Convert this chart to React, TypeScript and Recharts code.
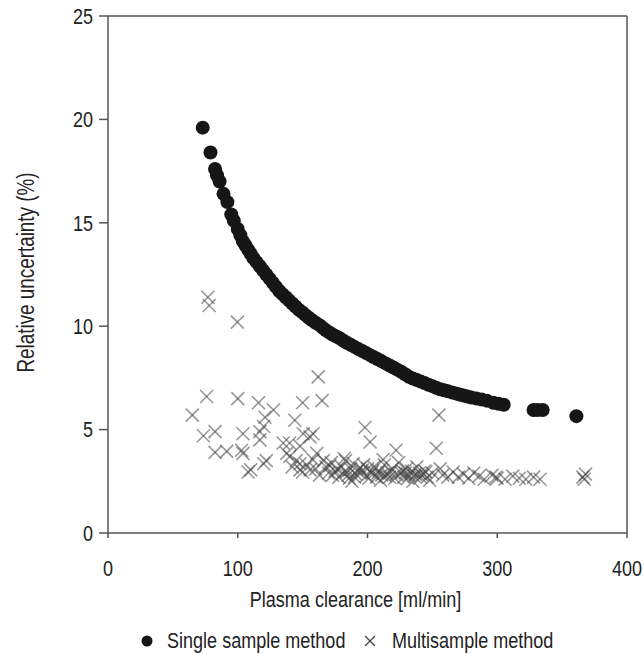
import { ScatterChart, Scatter, XAxis, YAxis, ReferenceLine, Legend, Label } from 'recharts';

// single sample method: one dot per patient
const singleX = [73, 79, 82.5, 84, 86, 89, 92, 95, 97, 100, 102, 104, 106, 108, 110, 112, 114.5, 117, 119.5, 122, 124.5, 127, 129.5, 132, 134.5, 137, 139.5, 142, 144.5, 147, 149.5, 152, 154.5, 157, 160, 163, 165.5, 168, 170.5, 173, 176, 179, 181.5, 184, 187, 190, 193, 196, 199, 202, 205, 208, 211, 214, 217, 220, 223, 226, 229, 232, 235, 238, 241, 244, 247, 250, 253, 256, 259, 262, 265, 268, 271, 274, 277, 280, 284, 288, 292, 297, 301, 305, 328, 331, 335, 361];
const singleY = [19.6, 18.4, 17.6, 17.3, 17.0, 16.4, 16.0, 15.4, 15.1, 14.7, 14.4, 14.1, 13.9, 13.7, 13.5, 13.3, 13.1, 12.9, 12.7, 12.5, 12.3, 12.1, 11.9, 11.7, 11.55, 11.4, 11.25, 11.1, 10.95, 10.8, 10.68, 10.55, 10.42, 10.3, 10.17, 10.05, 9.92, 9.8, 9.7, 9.6, 9.5, 9.4, 9.3, 9.2, 9.1, 9.0, 8.9, 8.8, 8.7, 8.6, 8.5, 8.4, 8.3, 8.2, 8.1, 8.0, 7.9, 7.8, 7.68, 7.55, 7.47, 7.4, 7.32, 7.25, 7.17, 7.1, 7.02, 6.95, 6.9, 6.85, 6.8, 6.75, 6.7, 6.65, 6.6, 6.55, 6.5, 6.45, 6.4, 6.3, 6.25, 6.2, 5.95, 5.95, 5.95, 5.65];

// multisample method
const multiX = [65, 73.5, 76, 77, 78, 82.5, 82.5, 91.5, 99.7, 100, 104, 103, 104, 108, 110, 116, 117, 117, 120, 121, 122, 120, 127.5, 135, 137.7, 140, 140, 142, 144, 145, 148, 148, 148, 150, 150, 150.5, 153, 155.7, 155.7, 158, 158, 160, 161, 162, 163, 165, 166, 168,
  170, 172, 175, 178, 180, 181, 182, 183, 185, 187, 188, 189, 190, 192, 195, 197, 198, 199, 200, 202, 203, 205, 207, 209, 210, 211, 212, 213, 215, 217, 219, 222, 222, 224, 226, 228, 230, 232, 234, 235, 236, 238, 240, 242, 244, 246, 248, 250, 253, 255, 256, 258, 262, 266, 270, 274, 278, 282, 286, 290, 296, 299, 300, 306, 312, 317, 322, 328, 333, 366, 368, 367,
  173, 177, 184, 186, 191, 194, 201, 204, 208, 214, 218, 221, 227, 231, 237, 241, 245, 171, 196, 229];
const multiY = [5.7, 4.7, 6.6, 11.4, 11.0, 4.9, 3.9, 3.95, 10.2, 6.5, 4.8, 4.0, 3.85, 2.95, 3.05, 6.3, 4.9, 4.5, 5.15, 5.6, 3.5, 3.35, 5.95, 4.35, 3.85, 3.7, 4.35, 3.2, 5.45, 3.5, 4.2, 3.35, 3.05, 6.3, 2.95, 4.8, 3.3, 4.65, 3.05, 3.55, 4.8, 3.1, 3.85, 7.55, 2.8, 6.4, 3.5, 3.2,
  2.9, 3.4, 3.0, 2.7, 3.2, 2.9, 3.6, 3.5, 2.8, 3.1, 2.5, 3.35, 2.7, 3.0, 2.9, 3.3, 5.1, 2.75, 3.1, 4.4, 2.9, 3.2, 2.7, 3.0, 2.55, 2.8, 3.55, 3.3, 2.9, 2.7, 3.1, 4.0, 2.85, 3.4, 2.9, 2.7, 3.1, 2.8, 3.0, 2.5, 2.75, 3.2, 2.9, 2.8, 3.0, 2.7, 2.55, 2.9, 4.1, 5.7, 3.1, 2.8, 2.7, 2.95, 2.7, 2.85, 2.65, 2.9, 2.75, 2.6, 2.8, 2.7, 2.65, 2.6, 2.75, 2.65, 2.6, 2.7, 2.6, 2.7, 2.85, 2.6,
  2.8, 3.05, 2.95, 2.65, 2.85, 3.15, 2.65, 3.0, 2.9, 2.75, 2.95, 2.65, 3.0, 2.65, 2.85, 2.7, 2.95, 3.25, 3.05, 2.9];

const xTicks = [0, 100, 200, 300, 400];
const yTicks = [0, 5, 10, 15, 20, 25];

const single = singleX.map((x, i) => ({ x, y: singleY[i] }));
const multi = multiX.map((x, i) => ({ x, y: multiY[i] }));

const FONT = '"Liberation Sans", Arial, sans-serif';
const FS = 22;
const SQ = 'scale(0.82,1)'; // narrow the face to look like a condensed grotesque
const AXIS = '#555';
const INK = '#222';

const Dot = (p: any) => <circle cx={p.cx} cy={p.cy} r={7} fill="#161616" />;

const Cross = (p: any) => {
  const d = 6.5;
  return (
    <g stroke="#444" strokeOpacity={0.55} strokeWidth={1.6}>
      <line x1={p.cx - d} y1={p.cy - d} x2={p.cx + d} y2={p.cy + d} />
      <line x1={p.cx - d} y1={p.cy + d} x2={p.cx + d} y2={p.cy - d} />
    </g>
  );
};

const NarrowText = ({ x, y, anchor, dy, rotate, size, children }: any) => (
  <g transform={`translate(${x},${y})${rotate ? ` rotate(${rotate})` : ''}`}>
    <text transform={SQ} textAnchor={anchor} dy={dy} fontSize={size || FS} fontFamily={FONT} fill={INK}>
      {children}
    </text>
  </g>
);

const XTick = (p: any) => (
  <NarrowText x={p.x} y={p.y} anchor="middle" dy="0.71em">{p.payload.value}</NarrowText>
);

const YTick = (p: any) => (
  <NarrowText x={p.x} y={p.y} anchor="end" dy="0.355em">{p.payload.value}</NarrowText>
);

const LegendContent = () => (
  <svg width={643} height={36} style={{ display: 'block' }}>
    <circle cx={147} cy={21} r={5.5} fill="#161616" />
    <NarrowText x={167} y={28} anchor="start">Single sample method</NarrowText>
    <g stroke="#444" strokeWidth={1.2}>
      <line x1={365} y1={16} x2={375} y2={26} />
      <line x1={365} y1={26} x2={375} y2={16} />
    </g>
    <NarrowText x={392} y={28} anchor="start">Multisample method</NarrowText>
  </svg>
);

export default function App() {
  return (
    <div style={{ position: 'absolute', left: 0, top: 0, background: '#fff' }}>
      <ScatterChart width={643} height={654} margin={{ top: 16, right: 16, bottom: 0, left: 0 }}>
        <XAxis
          type="number"
          dataKey="x"
          domain={[0, 400]}
          ticks={xTicks}
          height={121}
          tick={XTick}
          tickSize={5}
          tickMargin={22}
          stroke={AXIS}
          strokeWidth={1.5}
        >
          <Label
            content={(p: any) => (
              <NarrowText x={p.viewBox.x + p.viewBox.width / 2 - 12} y={p.viewBox.y + 74} anchor="middle">
                Plasma clearance [ml/min]
              </NarrowText>
            )}
          />
        </XAxis>
        <YAxis
          type="number"
          dataKey="y"
          domain={[0, 25]}
          ticks={yTicks}
          width={108}
          tick={YTick}
          tickSize={9}
          tickMargin={6}
          stroke={AXIS}
          strokeWidth={1.5}
        >
          <Label
            content={(p: any) => (
              <NarrowText x={p.viewBox.x + 26} y={p.viewBox.y + p.viewBox.height / 2 - 2} anchor="middle" dy="0.355em" rotate={-90} size={23}>
                Relative uncertainty (%)
              </NarrowText>
            )}
          />
        </YAxis>
        <ReferenceLine y={25} stroke={AXIS} strokeWidth={1.5} />
        <ReferenceLine x={400} stroke={AXIS} strokeWidth={1.5} />
        <Scatter name="Multisample method" data={multi} shape={Cross} isAnimationActive={false} />
        <Scatter name="Single sample method" data={single} shape={Dot} isAnimationActive={false} />
        <Legend
          layout="horizontal"
          verticalAlign="middle"
          align="center"
          content={LegendContent}
          wrapperStyle={{ top: 620, left: 0, width: 643 }}
        />
      </ScatterChart>
    </div>
  );
}
